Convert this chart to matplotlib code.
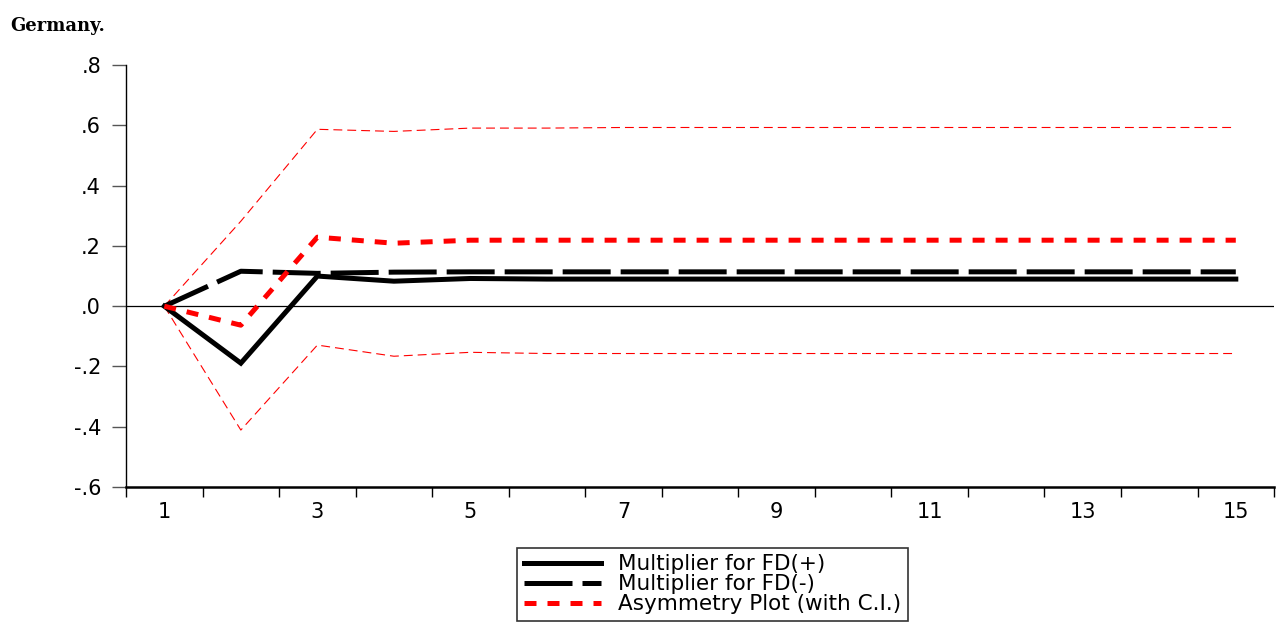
#!/usr/bin/env python
"""Germany: cumulative dynamic multipliers for FD(+)/FD(-) with asymmetry plot and C.I."""
import matplotlib
matplotlib.use("Agg")
import matplotlib.pyplot as plt

horizon = list(range(1, 16))
mult_pos = [0.0, -0.189, 0.100, 0.083, 0.092, 0.090, 0.090, 0.090, 0.090, 0.090, 0.090, 0.090, 0.090, 0.090, 0.090]
mult_neg = [0.0, 0.116, 0.109, 0.113, 0.114, 0.114, 0.114, 0.114, 0.114, 0.114, 0.114, 0.114, 0.114, 0.114, 0.114]
asym = [0.0, -0.063, 0.229, 0.209, 0.219, 0.219, 0.219, 0.219, 0.219, 0.219, 0.219, 0.219, 0.219, 0.219, 0.219]
ci_up = [0.0, 0.282, 0.587, 0.580, 0.591, 0.591, 0.593, 0.593, 0.593, 0.593, 0.593, 0.593, 0.593, 0.593, 0.593]
ci_lo = [0.0, -0.411, -0.129, -0.166, -0.153, -0.157, -0.157, -0.157, -0.157, -0.157, -0.157, -0.157, -0.157, -0.157, -0.157]
yticks = [-0.6, -0.4, -0.2, 0.0, 0.2, 0.4, 0.6, 0.8]
ylabels = ["-.6", "-.4", "-.2", ".0", ".2", ".4", ".6", ".8"]
xlabels = [1, 3, 5, 7, 9, 11, 13, 15]

plt.rcParams["font.family"] = ["DejaVu Sans"]

fig = plt.figure(figsize=(12.77, 6.26), dpi=100)
ax = fig.add_axes([0.0987, 0.222, 0.899, 0.674])

ax.axhline(0, color="k", lw=0.9, zorder=1)
ax.plot(horizon, ci_up, color="red", lw=0.8, dashes=(8, 4.5), zorder=2)
ax.plot(horizon, ci_lo, color="red", lw=0.8, dashes=(8, 4.5), zorder=2)
l1, = ax.plot(horizon, mult_pos, color="k", lw=3.6, solid_joinstyle="miter", zorder=3,
              label="Multiplier for FD(+)")
l2, = ax.plot(horizon, mult_neg, color="k", lw=3.6, dashes=(9.6, 2.0), zorder=3,
              label="Multiplier for FD(-)")
l3, = ax.plot(horizon, asym, color="red", lw=3.6, dashes=(2.4, 2.2), zorder=4,
              label="Asymmetry Plot (with C.I.)")

ax.set_xlim(0.5, 15.5)
ax.set_ylim(-0.6, 0.8)
ax.set_yticks(yticks)
ax.set_yticklabels(ylabels, fontsize=15)
ax.set_xticks([x + 0.5 for x in range(0, 16)], minor=False)
ax.set_xticklabels([""] * 16)
ax.set_xticks(xlabels, minor=True)
ax.set_xticklabels([str(x) for x in xlabels], minor=True, fontsize=15)
ax.tick_params(axis="x", which="major", direction="out", length=7, width=1)
ax.tick_params(axis="x", which="minor", length=0, pad=11)
ax.tick_params(axis="y", direction="out", length=10, width=1, pad=8, color="#555555")
for s in ("top", "right"):
    ax.spines[s].set_visible(False)
ax.spines["left"].set_linewidth(1)
ax.spines["bottom"].set_linewidth(1.8)

leg = fig.legend(handles=[l1, l2, l3], loc="center", bbox_to_anchor=(0.558, 0.067),
                 fontsize=15.5, frameon=True, fancybox=False, edgecolor="k",
                 handlelength=3.6, handletextpad=0.8, borderpad=0.3, labelspacing=0.0,
                 borderaxespad=0)
leg.get_frame().set_linewidth(1.2)

fig.text(0.008, 0.958, "Germany.", fontsize=13, fontweight="bold",
         family=["DejaVu Serif"], va="center")

fig.savefig("out.png", dpi=100)
